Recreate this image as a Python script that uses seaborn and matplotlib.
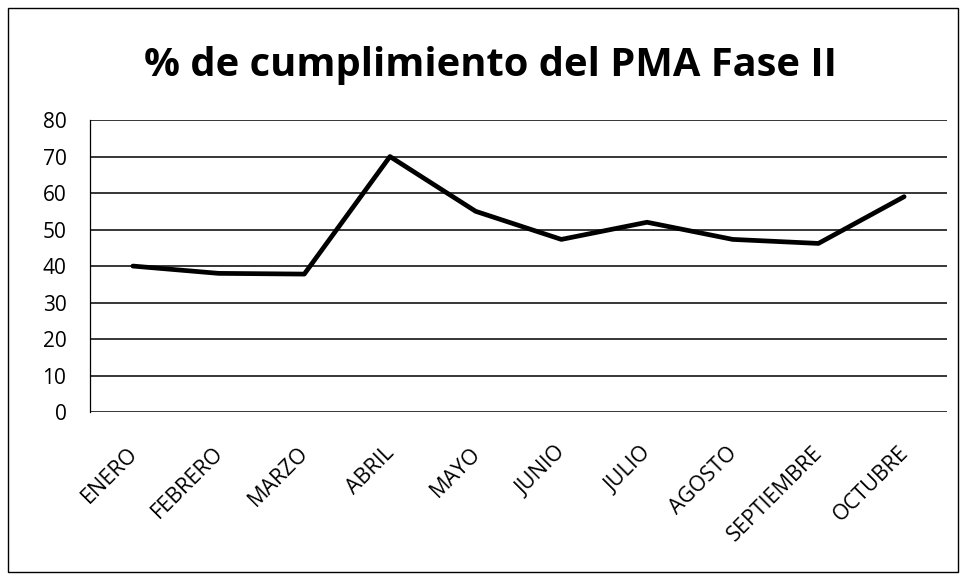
"""
% de cumplimiento del PMA Fase II - monthly line chart.
"""

import matplotlib
matplotlib.use("Agg")
import matplotlib.pyplot as plt
import matplotlib.transforms as mtransforms
import seaborn as sns
import pandas as pd
from matplotlib.patches import Rectangle

# ---------------------------------------------------------------------------
# Data
# ---------------------------------------------------------------------------

months = [
    "ENERO", "FEBRERO", "MARZO", "ABRIL", "MAYO",
    "JUNIO", "JULIO", "AGOSTO", "SEPTIEMBRE", "OCTUBRE",
]
compliance = [40, 38, 37.8, 70, 55, 47.3, 52, 47.3, 46.2, 59]
y_ticks = [0, 10, 20, 30, 40, 50, 60, 70, 80]
title = "% de cumplimiento del PMA Fase II"

df = pd.DataFrame({"mes": months, "pct": compliance})

# ---------------------------------------------------------------------------
# Plot
# ---------------------------------------------------------------------------

sns.set_style("white")
plt.rcParams["font.family"] = ["Open Sans", "DejaVu Sans"]
plt.rcParams["text.color"] = "black"
plt.rcParams["xtick.color"] = "black"
plt.rcParams["ytick.color"] = "black"

fig = plt.figure(figsize=(9.65, 5.87), dpi=100)
ax = fig.add_axes([0.0933, 0.298, 0.888, 0.4975])

sns.lineplot(data=df, x="mes", y="pct", sort=False, color="black",
             linewidth=3.4, ax=ax)

ax.set_ylim(0, 80)
ax.set_xlim(-0.5, len(months) - 0.5)
ax.set_yticks(y_ticks)
ax.set_yticklabels([str(v) for v in y_ticks], fontsize=15)
ax.yaxis.grid(True, color="black", linewidth=1.1)
ax.set_axisbelow(True)
ax.set_xticks(range(len(months)))
ax.set_xticklabels(months, rotation=45, ha="right", rotation_mode="anchor",
                   fontsize=15.5)
ax.tick_params(axis="both", length=0)
ax.tick_params(axis="x", pad=22)
ax.tick_params(axis="y", pad=17)
ax.set_xlabel("")
ax.set_ylabel("")

# nudge rotated month labels a little to the left, as in the original
shift = mtransforms.ScaledTranslation(-6 / 100, 0, fig.dpi_scale_trans)
for lbl in ax.get_xticklabels():
    lbl.set_transform(lbl.get_transform() + shift)

for side in ["top", "right", "bottom"]:
    ax.spines[side].set_visible(False)
ax.spines["left"].set_color("black")
ax.spines["left"].set_linewidth(0.9)

fig.text(0.508, 0.888, title, ha="center", va="center",
         fontsize=28.7, fontweight="bold")

# outer chart frame
fig.patches.append(Rectangle((0.0083, 0.0256), 0.9844, 0.9608,
                             transform=fig.transFigure, fill=False,
                             edgecolor="black", linewidth=1.0))

fig.savefig("out.png", dpi=100)
plt.close(fig)
